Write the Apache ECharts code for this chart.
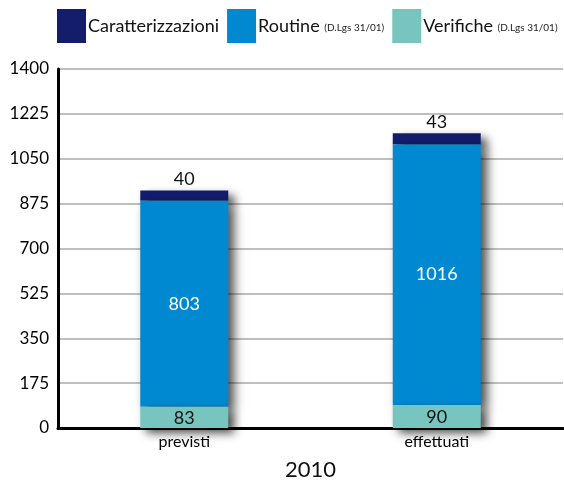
<!DOCTYPE html>
<html lang="it">
<head>
<meta charset="UTF-8">
<title>Caratterizzazioni / Routine / Verifiche 2010</title>
<script src="https://cdn.jsdelivr.net/npm/echarts@6/dist/echarts.min.js"></script>
<style>
  html, body { margin: 0; padding: 0; background: #fff; }
  #chart { width: 564px; height: 484px; }
</style>
</head>
<body>
<div id="chart"></div>
<script>
  var categories = ['previsti', 'effettuati'];
  var caratterizzazioni = [40, 43];
  var routine = [803, 1016];
  var verifiche = [83, 90];
  var yTicks = [0, 175, 350, 525, 700, 875, 1050, 1225, 1400];

  var font = 'Lato, "Noto Sans", sans-serif';
  var shadow = { shadowBlur: 10, shadowOffsetX: 6, shadowOffsetY: 5, shadowColor: 'rgba(0,0,0,0.7)' };

  function styleWith(color) {
    return Object.assign({ color: color }, shadow);
  }

  var chart = echarts.init(document.getElementById('chart'));
  chart.setOption({
    animation: false,
    textStyle: { fontFamily: font },
    legend: {
      left: 57, top: 9, width: 520, padding: 0,
      itemWidth: 29, itemHeight: 34, itemGap: 8,
      icon: 'rect',
      textStyle: {
        fontSize: 18, color: '#111', padding: [0, 0, 0, -3],
        rich: { s: { fontSize: 10, color: '#222', padding: [4, 0, 0, 0] } }
      },
      formatter: function (name) {
        if (name === 'Caratterizzazioni') return name;
        return name + ' {s|(D.Lgs 31/01)}';
      },
      data: ['Caratterizzazioni', 'Routine', 'Verifiche']
    },
    grid: { left: 58, right: 1, top: 69, bottom: 56, outerBoundsMode: 'none', containLabel: false },
    xAxis: {
      type: 'category',
      data: categories,
      name: '2010',
      nameLocation: 'middle',
      nameGap: 31,
      nameTextStyle: { fontSize: 22, color: '#111', fontFamily: font },
      axisLine: { lineStyle: { color: '#000', width: 3 } },
      axisTick: { inside: true, length: 5, lineStyle: { color: '#555', width: 1.5 } },
      axisLabel: { fontSize: 16, color: '#000', margin: 6 }
    },
    yAxis: {
      type: 'value',
      min: yTicks[0],
      max: yTicks[yTicks.length - 1],
      interval: yTicks[1] - yTicks[0],
      axisLine: { show: true, lineStyle: { color: '#000', width: 3 } },
      axisTick: { show: false },
      axisLabel: { fontSize: 17, color: '#000', margin: 9, formatter: function (v) { return String(v); } },
      splitLine: { lineStyle: { color: '#aaa', width: 1.5 } }
    },
    series: [
      {
        name: 'Verifiche', type: 'bar', stack: 'tot', barWidth: 88, z: 4,
        data: verifiche,
        itemStyle: styleWith('#78c5c0'),
        label: { show: true, position: 'inside', fontSize: 18, color: '#111', offset: [0, 1] }
      },
      {
        name: 'Routine', type: 'bar', stack: 'tot', barWidth: 88, z: 3,
        data: routine,
        itemStyle: styleWith('#0089d0'),
        label: { show: true, position: 'inside', fontSize: 18, color: '#fff' }
      },
      {
        name: 'Caratterizzazioni', type: 'bar', stack: 'tot', barWidth: 88, z: 2,
        data: caratterizzazioni,
        itemStyle: styleWith('#131d6c'),
        label: { show: true, position: 'top', fontSize: 18, color: '#111', distance: 2 }
      }
    ]
  });
</script>
</body>
</html>
